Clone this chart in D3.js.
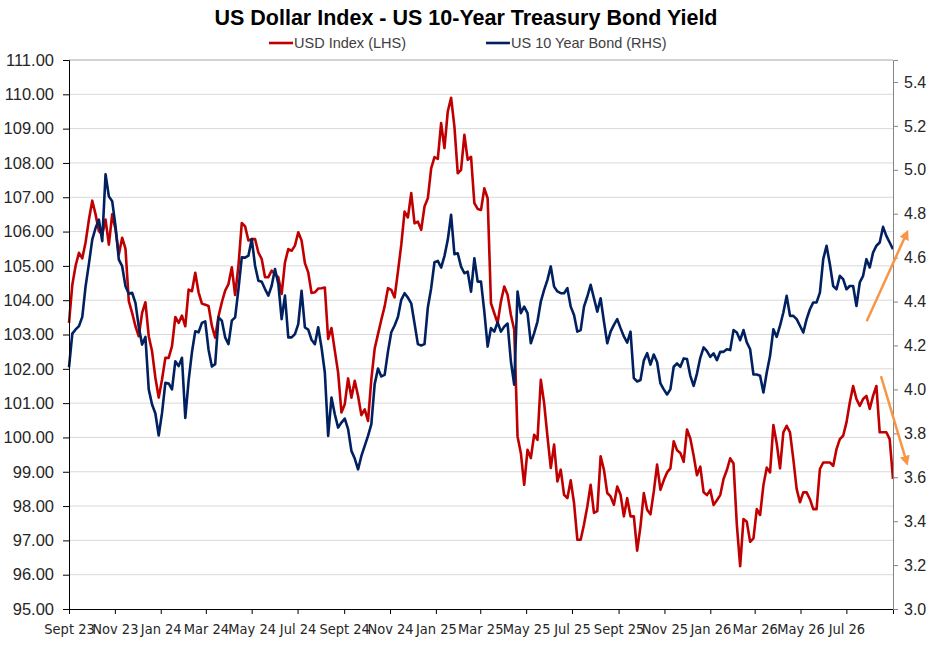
<!DOCTYPE html>
<html>
<head>
<meta charset="utf-8">
<script src="https://cdn.jsdelivr.net/npm/d3@7"></script>
<style>
  body { margin: 0; background: #fff; }
  svg { display: block; }
</style>
</head>
<body>
<div id="chart"></div>
<script>
const usdIndex = [
  103.34,104.45,105.01,105.38,105.22,105.69,106.35,106.9,106.50,106.01,
  105.91,106.35,105.62,106.50,106.06,105.33,105.82,105.5,103.97,103.63,
  103.24,102.95,103.63,103.94,102.95,102.51,101.74,101.16,101.69,102.32,
  102.32,102.66,103.51,103.34,103.55,103.24,104.31,104.26,104.8,104.23,
  103.9,103.87,103.83,103.25,102.91,103.53,103.94,104.28,104.47,104.96,
  104.15,105.01,106.25,106.15,105.74,105.78,105.78,105.39,105.2,104.67,
  104.67,104.86,104.76,104.67,104.18,105.1,105.49,105.44,105.59,105.98,
  105.74,105.08,104.81,104.21,104.23,104.34,104.35,104.37,102.87,103.19,
  102.53,101.89,100.73,100.97,101.72,101.16,101.65,101.21,100.65,100.82,
  100.48,101.7,102.59,103.01,103.43,103.82,104.35,104.3,104.08,104.83,
  105.61,106.58,106.41,107.12,106.24,106.29,106.05,106.73,106.97,107.84,
  108.17,108.12,109.16,108.43,109.5,109.9,109.06,107.7,107.8,108.82,
  108.09,108.18,106.83,106.66,106.63,107.26,106.97,103.91,103.62,103.33,
  103.96,104.4,104.16,103.57,103.14,100.03,99.54,98.62,99.64,99.4,
  100.08,99.93,101.68,101.0,100.03,99.11,99.79,98.72,99.06,98.33,
  98.23,98.75,98.09,97.02,97.02,97.46,97.99,98.62,97.8,97.85,
  99.45,99.06,98.38,98.28,98.04,98.57,98.33,97.7,98.23,97.7,
  97.7,96.7,97.41,98.38,97.89,97.76,98.42,99.21,98.47,98.75,
  98.98,99.1,99.89,99.63,99.55,99.29,100.23,99.97,99.47,98.9,
  99.15,98.4,98.32,98.47,98.03,98.17,98.32,98.79,99.05,99.39,
  99.24,97.45,96.25,97.62,97.54,96.96,97.06,97.91,97.74,98.61,
  99.12,98.98,100.36,99.83,99.1,100.15,100.34,100.15,99.37,98.5,
  98.11,98.4,98.4,98.2,97.91,97.91,99.08,99.27,99.27,99.27,
  99.17,99.66,99.95,100.05,100.44,101.02,101.5,101.12,100.92,101.12,
  101.21,100.83,101.21,101.5,100.15,100.15,100.15,99.95,98.79
];

const us10y = [
  4.10,4.254,4.273,4.288,4.33,4.47,4.573,4.682,4.735,4.773,
  4.675,4.98,4.879,4.857,4.743,4.591,4.561,4.47,4.436,4.44,
  4.394,4.285,4.204,4.239,4.0,3.931,3.89,3.79,3.893,4.03,
  4.027,4.0,4.128,4.106,4.144,3.87,4.04,4.169,4.265,4.26,
  4.303,4.31,4.181,4.104,4.115,4.328,4.313,4.237,4.206,4.313,
  4.328,4.457,4.601,4.6,4.609,4.685,4.563,4.495,4.49,4.457,
  4.427,4.472,4.548,4.48,4.32,4.427,4.237,4.237,4.252,4.297,
  4.449,4.282,4.272,4.226,4.206,4.283,4.191,4.077,3.788,3.963,
  3.887,3.826,3.849,3.867,3.819,3.72,3.685,3.636,3.697,3.743,
  3.788,3.842,4.024,4.095,4.059,4.066,4.172,4.26,4.291,4.33,
  4.408,4.438,4.418,4.392,4.3,4.206,4.2,4.206,4.373,4.461,
  4.579,4.585,4.555,4.607,4.681,4.795,4.616,4.62,4.559,4.529,
  4.536,4.445,4.597,4.491,4.491,4.354,4.195,4.279,4.263,4.306,
  4.263,4.286,4.3,4.127,4.021,4.446,4.347,4.377,4.347,4.21,
  4.256,4.309,4.4,4.453,4.499,4.56,4.468,4.446,4.438,4.438,
  4.461,4.377,4.339,4.263,4.27,4.377,4.423,4.476,4.415,4.354,
  4.415,4.309,4.21,4.263,4.294,4.32,4.279,4.241,4.213,4.263,
  4.051,4.036,4.043,4.131,4.165,4.113,4.159,4.125,4.027,4.0,
  3.977,4.0,4.103,4.118,4.103,4.141,4.138,4.062,4.016,4.072,
  4.144,4.191,4.174,4.148,4.164,4.133,4.171,4.171,4.183,4.179,
  4.27,4.259,4.224,4.27,4.214,4.183,4.068,4.068,4.062,3.986,
  4.077,4.153,4.274,4.239,4.29,4.35,4.426,4.335,4.335,4.32,
  4.29,4.259,4.32,4.365,4.396,4.396,4.441,4.593,4.654,4.57,
  4.471,4.456,4.517,4.502,4.456,4.471,4.471,4.38,4.487,4.517,
  4.593,4.555,4.623,4.654,4.669,4.74,4.699,4.669,4.638
];

const xTickLabels = ["Sept 23","Nov 23","Jan 24","Mar 24","May 24","Jul 24","Sept 24","Nov 24","Jan 25",
  "Mar 25","May 25","Jul 25","Sept 25","Nov 25","Jan 26","Mar 26","May 26","Jul 26",""];
const leftTicks = [95,96,97,98,99,100,101,102,103,104,105,106,107,108,109,110,111];
const rightTicks = [3.0,3.2,3.4,3.6,3.8,4.0,4.2,4.4,4.6,4.8,5.0,5.2,5.4];

const seriesNames = ["USD Index (LHS)", "US 10 Year Bond (RHS)"];
const seriesColors = ["#c00000", "#002060"];

// trend arrows: [date, yield] start -> end, on the right-hand scale
const arrows = [
  {from: ["2026-07-28", 4.31], to: ["2026-09-19", 4.71]},
  {from: ["2026-08-16", 4.06], to: ["2026-09-19", 3.67]}
];

const width = 945, height = 654;
const margin = {top: 60, right: 52, bottom: 45, left: 69};
const plotRight = width - margin.right;
const plotBottom = height - margin.bottom;

const t0 = Date.UTC(2023, 8, 1), t1 = Date.UTC(2026, 8, 1);
const n = usdIndex.length;
const dates = usdIndex.map((d, i) => new Date(t0 + i * (t1 - t0) / (n - 1)));

const x = d3.scaleUtc()
    .domain([new Date(t0), new Date(t1)])
    .range([margin.left, plotRight]);
const yL = d3.scaleLinear().domain([95, 111]).range([plotBottom, margin.top]);
const yR = d3.scaleLinear().domain([3.0, 5.5]).range([plotBottom, margin.top]);

const svg = d3.select("#chart").append("svg")
    .attr("width", width)
    .attr("height", height)
    .attr("font-family", "'Liberation Sans', Arial, sans-serif");

svg.append("defs").append("marker")
    .attr("id", "head")
    .attr("viewBox", "0 0 10 10")
    .attr("refX", 6).attr("refY", 5)
    .attr("markerWidth", 4).attr("markerHeight", 4)
    .attr("orient", "auto")
  .append("path")
    .attr("d", "M0,0L10,5L0,10z")
    .attr("fill", "#f79646");

// grid
svg.append("g")
  .selectAll("line")
  .data(leftTicks.filter(d => d > 95))
  .join("line")
    .attr("x1", margin.left).attr("x2", plotRight)
    .attr("y1", d => yL(d)).attr("y2", d => yL(d))
    .attr("stroke", d => d === 111 ? "#a6a6a6" : "#d9d9d9")
    .attr("stroke-width", 1);

// lines
const lineL = d3.line().x((d, i) => x(dates[i])).y(d => yL(d));
const lineR = d3.line().x((d, i) => x(dates[i])).y(d => yR(d));

svg.append("path")
    .datum(usdIndex)
    .attr("d", lineL)
    .attr("fill", "none")
    .attr("stroke", seriesColors[0])
    .attr("stroke-width", 2.6)
    .attr("stroke-linejoin", "round");

svg.append("path")
    .datum(us10y)
    .attr("d", lineR)
    .attr("fill", "none")
    .attr("stroke", seriesColors[1])
    .attr("stroke-width", 2.6)
    .attr("stroke-linejoin", "round");

// axes
const xTicks = d3.utcMonth.every(2).range(new Date(t0), new Date(t1 + 86400000));

const gx = svg.append("g")
    .attr("transform", `translate(0,${plotBottom})`)
    .call(d3.axisBottom(x).tickValues(xTicks).tickFormat((d, i) => xTickLabels[i]).tickSizeOuter(0).tickSize(5).tickPadding(10));
gx.select(".domain").attr("stroke", "#000");
gx.selectAll(".tick line").attr("stroke", "#000");
gx.selectAll("text")
    .attr("font-family", "'Liberation Sans Narrow', 'Arial Narrow', 'DejaVu Sans Condensed', sans-serif")
    .attr("font-size", 14.5)
    .attr("fill", "#262626");

const gl = svg.append("g")
    .attr("transform", `translate(${margin.left},0)`)
    .call(d3.axisLeft(yL).tickValues(leftTicks).tickFormat(d3.format(".2f")).tickSizeOuter(0).tickSize(6).tickPadding(9));
gl.select(".domain").attr("stroke", "#000");
gl.selectAll(".tick line").attr("stroke", "#000");
gl.selectAll("text").attr("font-size", 16.5).attr("fill", "#262626").attr("font-family", null);

const gr = svg.append("g")
    .attr("transform", `translate(${plotRight},0)`)
    .call(d3.axisRight(yR).tickValues(rightTicks).tickFormat(d3.format(".1f")).tickSizeOuter(0).tickSize(5).tickPadding(6));
gr.select(".domain").attr("stroke", "#868686");
gr.selectAll(".tick line").attr("stroke", "#868686");
gr.selectAll("text").attr("font-size", 16).attr("fill", "#262626").attr("font-family", null);

// arrows
svg.append("g")
  .selectAll("line")
  .data(arrows)
  .join("line")
    .attr("x1", d => x(new Date(d.from[0])))
    .attr("y1", d => yR(d.from[1]))
    .attr("x2", d => x(new Date(d.to[0])))
    .attr("y2", d => yR(d.to[1]))
    .attr("stroke", "#f79646")
    .attr("stroke-width", 2.5)
    .attr("marker-end", "url(#head)");

// title
svg.append("text")
    .attr("x", 466)
    .attr("y", 25)
    .attr("text-anchor", "middle")
    .attr("font-weight", "bold")
    .attr("font-size", 21.5)
    .attr("fill", "#000")
    .text("US Dollar Index - US 10-Year Treasury Bond Yield");

// legend
const legend = svg.append("g")
  .selectAll("g")
  .data(seriesNames)
  .join("g")
    .attr("transform", (d, i) => `translate(${i === 0 ? 269 : 486},43)`);

legend.append("line")
    .attr("x1", 0).attr("x2", 24)
    .attr("stroke", (d, i) => seriesColors[i])
    .attr("stroke-width", 2.6);

legend.append("text")
    .attr("x", 25)
    .attr("dy", "0.35em")
    .attr("font-size", 14.5)
    .attr("fill", "#404040")
    .text(d => d);
</script>
</body>
</html>
